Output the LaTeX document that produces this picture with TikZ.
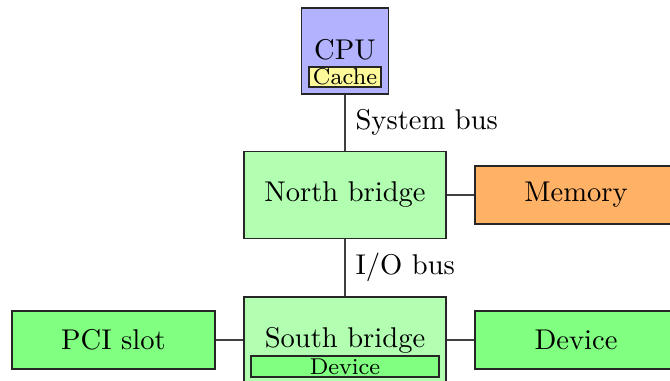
\documentclass[tikz,border=0pt]{standalone}
\begin{document}
\begin{tikzpicture}[x=0.35pt,y=-0.35pt,
  box/.style={draw=black!85,rectangle,inner sep=0pt},
  conn/.style={draw=black!75},
  lbl/.style={inner sep=0pt,anchor=west}]
\useasboundingbox (0,0) rectangle (670,381);
\clip (0,0) rectangle (670,381);
% CPU
\node[box,fill=blue!30,minimum width=87*0.35pt,minimum height=86*0.35pt] (cpu) at (345,51) {};
\node[inner sep=0pt] (cputxt) at (345,50) {CPU};
\node[box,fill=yellow!40,minimum width=72*0.35pt,minimum height=20*0.35pt,font=\footnotesize] (cache) at (345,77) {Cache};
% North bridge
\node[box,fill=green!30,minimum width=202*0.35pt,minimum height=87*0.35pt] (nb) at (345,195) {North bridge};
% Memory
\node[box,fill=orange!60,minimum width=202*0.35pt,minimum height=58*0.35pt] (mem) at (576,195) {Memory};
% South bridge
\node[box,fill=green!30,minimum width=202*0.35pt,minimum height=92*0.35pt] (sb) at (345,343) {};
\node[inner sep=0pt] (sbtxt) at (345,340) {South bridge};
\node[box,fill=green!50,minimum width=188*0.35pt,minimum height=21*0.35pt,font=\footnotesize] (sbdev) at (345,366.5) {Device};
% PCI slot
\node[box,fill=green!50,minimum width=203*0.35pt,minimum height=58*0.35pt] (pci) at (113.5,340) {PCI slot};
% Device
\node[box,fill=green!50,minimum width=202*0.35pt,minimum height=58*0.35pt] (dev) at (576,340) {Device};
% connectors
\draw[conn] (cpu.south) -- node[lbl,right=10*0.35pt] (sysbus) {System bus} (nb.north);
\draw[conn] (nb.south) -- node[lbl,right=10*0.35pt] (iobus) {I/O bus} (sb.north);
\draw[conn] (nb.east) -- (mem.west);
\draw[conn] (sb.west |- pci.east) -- (pci.east);
\draw[conn] (sb.east |- dev.west) -- (dev.west);
\end{tikzpicture}
\end{document}
